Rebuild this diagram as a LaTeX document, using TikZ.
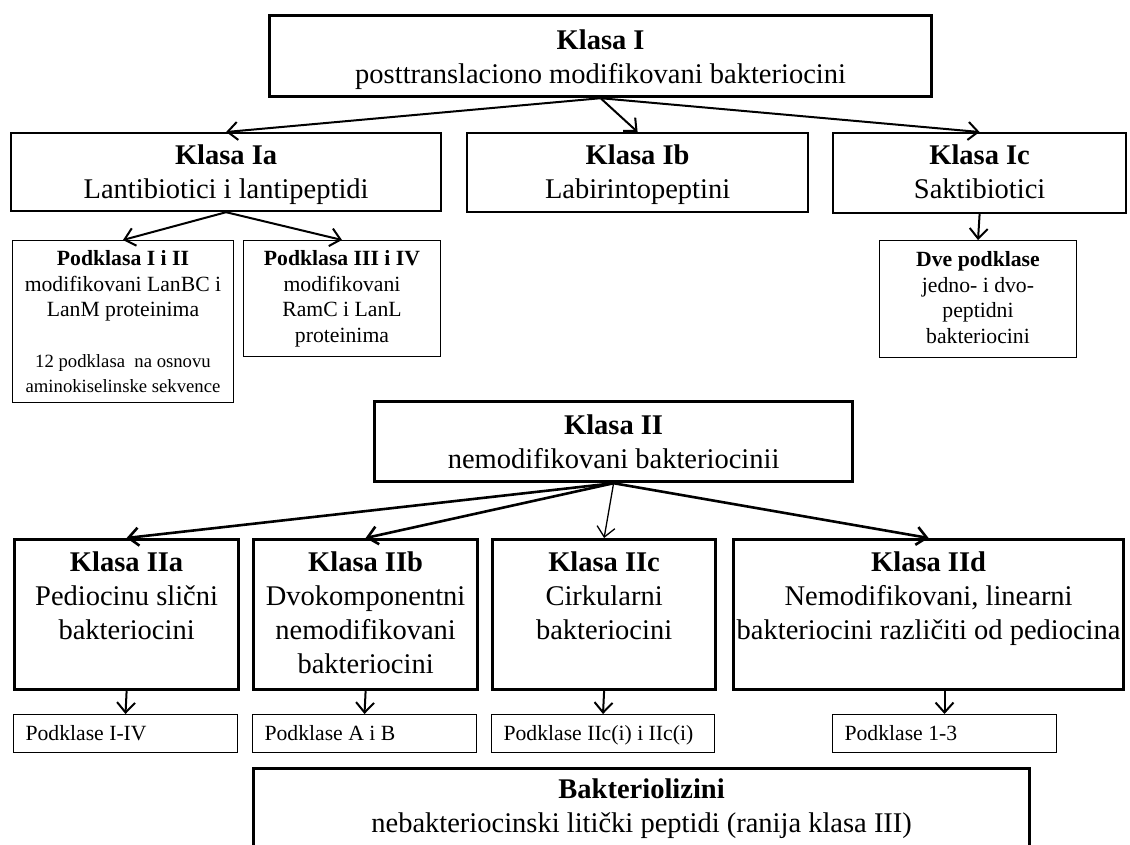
\documentclass[tikz,border=0pt]{standalone}
\usepackage{fontspec}
\setmainfont{Liberation Serif}
\usetikzlibrary{arrows.meta}

\newcommand{\bigtxt}{\fontsize{28.5}{34}\selectfont}
\newcommand{\midtxt}{\fontsize{21.7}{25.5}\selectfont}
\newcommand{\smalltxt}{\fontsize{18.7}{25.5}\selectfont}

\begin{document}
\begin{tikzpicture}[x=1pt,y=-1pt,
  every node/.style={inner sep=0pt,anchor=north west,align=flush center},
  mainbox/.style={draw,line width=3.2pt,font=\bigtxt},
  classbox/.style={draw,line width=2.2pt,font=\bigtxt},
  subbox/.style={draw,line width=1pt,font=\midtxt},
  leafbox/.style={draw,line width=1pt,font=\midtxt,align=flush left,inner xsep=12pt},
  arr/.style={-{Straight Barb[length=10pt,width=18pt]},line width=2pt}]
\useasboundingbox (0,0) rectangle (1130,844);

\node[mainbox,text width=662pt,text height=34pt,text depth=47pt] (k1) at (268,14) {\textbf{Klasa I}\\posttranslaciono modifikovani bakteriocini};

\node[classbox,text width=430pt,text height=31pt,text depth=47pt] (k1a) at (10,132) {\textbf{Klasa Ia}\\Lantibiotici i lantipeptidi};
\node[classbox,text width=341pt,text height=31pt,text depth=48pt] (k1b) at (466,132) {\textbf{Klasa Ib}\\Labirintopeptini};
\node[classbox,text width=293pt,text height=31pt,text depth=49pt] (k1c) at (832,132) {\textbf{Klasa Ic}\\Saktibiotici};

\node[subbox,text width=221pt,text height=25pt,text depth=137pt] (p12) at (12,240) {\textbf{Podklasa I i II}\\modifikovani LanBC i\\LanM proteinima\\[25pt]\smalltxt 12 podklasa\ \ na osnovu\\aminokiselinske sekvence};
\node[subbox,text width=197pt,text height=25pt,text depth=91pt] (p34) at (243,240) {\textbf{Podklasa III i IV}\\modifikovani\\RamC i LanL\\proteinima};
\node[subbox,text width=197pt,text height=26pt,text depth=91pt] (pdve) at (879,240) {\textbf{Dve podklase}\\jedno- i dvo-\\peptidni\\bakteriocini};

\node[mainbox,text width=478pt,text height=33pt,text depth=47pt] (k2) at (373,400) {\textbf{Klasa II}\\nemodifikovani bakteriocinii};

\node[mainbox,text width=224pt,text height=32pt,text depth=118pt] (k2a) at (13,538) {\textbf{Klasa IIa}\\Pediocinu slični\\bakteriocini};
\node[mainbox,text width=224pt,text height=32pt,text depth=118pt] (k2b) at (252,538) {\textbf{Klasa IIb}\\Dvokomponentni\\nemodifikovani\\bakteriocini};
\node[mainbox,text width=223pt,text height=32pt,text depth=118pt] (k2c) at (491,538) {\textbf{Klasa IIc}\\Cirkularni\\bakteriocini};
\node[mainbox,text width=390pt,text height=32pt,text depth=118pt] (k2d) at (732,538) {\textbf{Klasa IId}\\Nemodifikovani, linearni\\bakteriocini različiti od pediocina};

\node[leafbox,text width=200pt,text height=26pt,text depth=12pt] (s2a) at (13,714) {Podklase I-IV};
\node[leafbox,text width=200pt,text height=26pt,text depth=12pt] (s2b) at (252,714) {Podklase A i B};
\node[leafbox,text width=199pt,text height=26pt,text depth=12pt] (s2c) at (491,714) {Podklase IIc(i) i IIc(i)};
\node[leafbox,text width=200pt,text height=26pt,text depth=12pt] (s2d) at (832,714) {Podklase 1-3};

\node[mainbox,text width=776pt,text height=30pt,text depth=70pt] (bl) at (252,767) {\textbf{Bakteriolizini}\\nebakteriocinski litički peptidi (ranija klasa III)};

\draw[arr] (k1.south) -- (k1a.north);
\draw[arr] (k1.south) -- (k1b.north);
\draw[arr] (k1.south) -- (k1c.north);
\draw[arr] (k1a.south) -- (p12.north);
\draw[arr] (k1a.south) -- (p34.north);
\draw[arr] (k1c.south) -- (pdve.north);

\draw[arr,line width=2.6pt] (k2.south) -- (k2a.north);
\draw[arr,line width=2.6pt] (k2.south) -- (k2b.north);
\draw[arr,line width=1.3pt] (k2.south) -- (k2c.north);
\draw[arr,line width=2.6pt] (k2.south) -- (k2d.north);

\draw[arr] (k2a.south) -- (s2a.north);
\draw[arr] (k2b.south) -- (s2b.north);
\draw[arr] (k2c.south) -- (s2c.north);
\draw[arr] (s2d.north |- k2d.south) -- (s2d.north);
\end{tikzpicture}
\end{document}
